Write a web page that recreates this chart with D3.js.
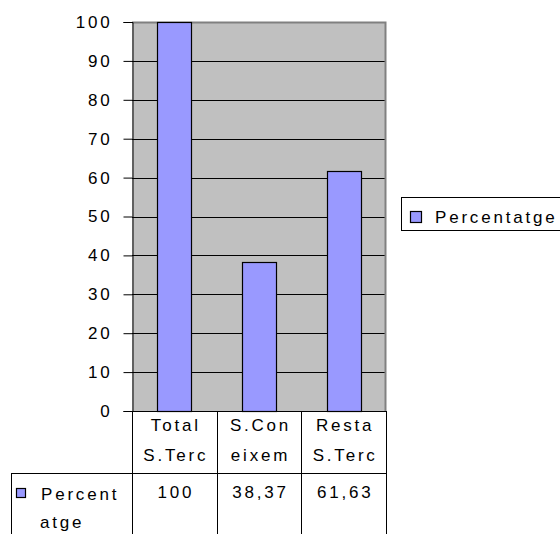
<!DOCTYPE html>
<html>
<head>
<meta charset="utf-8">
<script src="https://cdn.jsdelivr.net/npm/d3@7"></script>
<style>
  body { margin: 0; background: #fff; }
  svg text { font-family: "Liberation Sans", Arial, sans-serif; font-size: 17px; fill: #000; letter-spacing: 2.8px; }
</style>
</head>
<body>
<svg id="chart" width="560" height="534"></svg>
<script>
// dades
const categories = ['Total S.Terc', 'S.Coneixem', 'Resta S.Terc'];
const categoryLines = [['Total', 'S.Terc'], ['S.Con', 'eixem'], ['Resta', 'S.Terc']];
const values = [100, 38.37, 61.63];
const valueLabels = ['100', '38,37', '61,63'];
const seriesName = 'Percentatge';
const seriesLines = ['Percent', 'atge'];
const yTicks = [0, 10, 20, 30, 40, 50, 60, 70, 80, 90, 100];

const BAR_FILL = '#9999ff';
const PLOT_BG = '#c0c0c0';

const svg = d3.select('#chart');
const plot = { left: 132, right: 386, top: 22, bottom: 411 };

const y = d3.scaleLinear().domain([0, 100]).range([plot.bottom, plot.top]);

// columnes (taula) i barres (gap 150%)
const xCol = d3.scaleBand().domain(categories).range([plot.left, plot.right]).padding(0);
const xBar = d3.scaleBand().domain(categories).range([plot.left, plot.right])
    .paddingInner(0.6).paddingOuter(0.3);

// fons de l'àrea
svg.append('rect')
    .attr('x', plot.left).attr('y', plot.top)
    .attr('width', plot.right - plot.left).attr('height', plot.bottom - plot.top)
    .attr('fill', PLOT_BG);

// línies de graella
svg.append('g').selectAll('line')
    .data(yTicks.filter(d => d > 0 && d < 100))
    .join('line')
    .attr('x1', plot.left).attr('x2', plot.right)
    .attr('y1', d => Math.round(y(d)) + 0.5).attr('y2', d => Math.round(y(d)) + 0.5)
    .attr('stroke', '#000').attr('stroke-width', 1);

// vora superior i dreta grisa
svg.append('path')
    .attr('d', `M${plot.left},${plot.top + 0.5}H${plot.right - 0.5}V${plot.bottom}`)
    .attr('fill', 'none').attr('stroke', '#808080').attr('stroke-width', 2);

// barres
svg.append('g').selectAll('rect')
    .data(values)
    .join('rect')
    .attr('x', (d, i) => Math.round(xBar(categories[i])) + 0.5)
    .attr('y', d => Math.round(y(d)) + 0.5)
    .attr('width', Math.round(xBar.bandwidth()))
    .attr('height', d => Math.round(y(0)) - Math.round(y(d)))
    .attr('fill', BAR_FILL)
    .attr('stroke', '#000').attr('stroke-width', 1.2);

// eix Y
const yAxis = d3.axisLeft(y).tickValues(yTicks).tickSize(9).tickPadding(14).tickFormat(d3.format('d'));
const gy = svg.append('g')
    .attr('transform', `translate(${plot.left + 0.5},0)`)
    .call(yAxis);
gy.attr('font-size', null).attr('font-family', null);
gy.select('.domain').attr('stroke', '#000');
gy.selectAll('.tick line').attr('stroke', '#000');
gy.selectAll('.tick text')
    .attr('dx', 3)
    .attr('fill', '#000');

// taula de dades
const table = svg.append('g');
const rowTop = plot.bottom, rowMid = 473, rowBottom = 534;
const tableLeft = 11;

table.append('line')
    .attr('x1', plot.left + 0.5).attr('x2', plot.left + 0.5)
    .attr('y1', plot.bottom).attr('y2', rowBottom)
    .attr('stroke', '#000');
table.append('g').selectAll('line')
    .data(categories)
    .join('line')
    .attr('x1', d => Math.round(xCol(d) + xCol.bandwidth()) + 0.5)
    .attr('x2', d => Math.round(xCol(d) + xCol.bandwidth()) + 0.5)
    .attr('y1', rowTop).attr('y2', rowBottom)
    .attr('stroke', '#000');
table.append('line')
    .attr('x1', tableLeft).attr('x2', plot.right + 1)
    .attr('y1', rowMid + 0.5).attr('y2', rowMid + 0.5)
    .attr('stroke', '#000');
table.append('line')
    .attr('x1', tableLeft + 0.5).attr('x2', tableLeft + 0.5)
    .attr('y1', rowMid).attr('y2', rowBottom)
    .attr('stroke', '#000');
table.append('line')
    .attr('x1', plot.left).attr('x2', plot.right)
    .attr('y1', plot.bottom + 0.5).attr('y2', plot.bottom + 0.5)
    .attr('stroke', '#000');

// etiquetes de categoria
categoryLines.forEach((lines, i) => {
    const cx = xCol(categories[i]) + xCol.bandwidth() / 2 + 1.5;
    lines.forEach((ln, j) => {
        table.append('text')
            .attr('x', cx).attr('y', 425 + j * 30)
            .attr('text-anchor', 'middle').attr('dominant-baseline', 'central')
            .text(ln);
    });
});

// valors
table.append('g').selectAll('text')
    .data(valueLabels)
    .join('text')
    .attr('x', (d, i) => xCol(categories[i]) + xCol.bandwidth() / 2 + 1.5)
    .attr('y', 492)
    .attr('text-anchor', 'middle').attr('dominant-baseline', 'central')
    .text(d => d);

// llegenda dins la taula
table.append('rect')
    .attr('x', 16.5).attr('y', 488.5).attr('width', 9).attr('height', 9)
    .attr('fill', BAR_FILL).attr('stroke', '#000').attr('stroke-width', 1.2);
seriesLines.forEach((ln, j) => {
    table.append('text')
        .attr('x', j === 0 ? 41 : 40).attr('y', 494 + j * 28)
        .attr('dominant-baseline', 'central')
        .text(ln);
});

// llegenda dreta
const legend = svg.append('g');
legend.append('rect')
    .attr('x', 401.5).attr('y', 197.5).attr('width', 170).attr('height', 33)
    .attr('fill', '#fff').attr('stroke', '#000').attr('stroke-width', 1);
legend.append('rect')
    .attr('x', 410.5).attr('y', 211.5).attr('width', 11).attr('height', 11)
    .attr('fill', BAR_FILL).attr('stroke', '#000').attr('stroke-width', 1.2);
legend.append('text')
    .attr('x', 435).attr('y', 217)
    .attr('dominant-baseline', 'central')
    .text(seriesName);
</script>
</body>
</html>
